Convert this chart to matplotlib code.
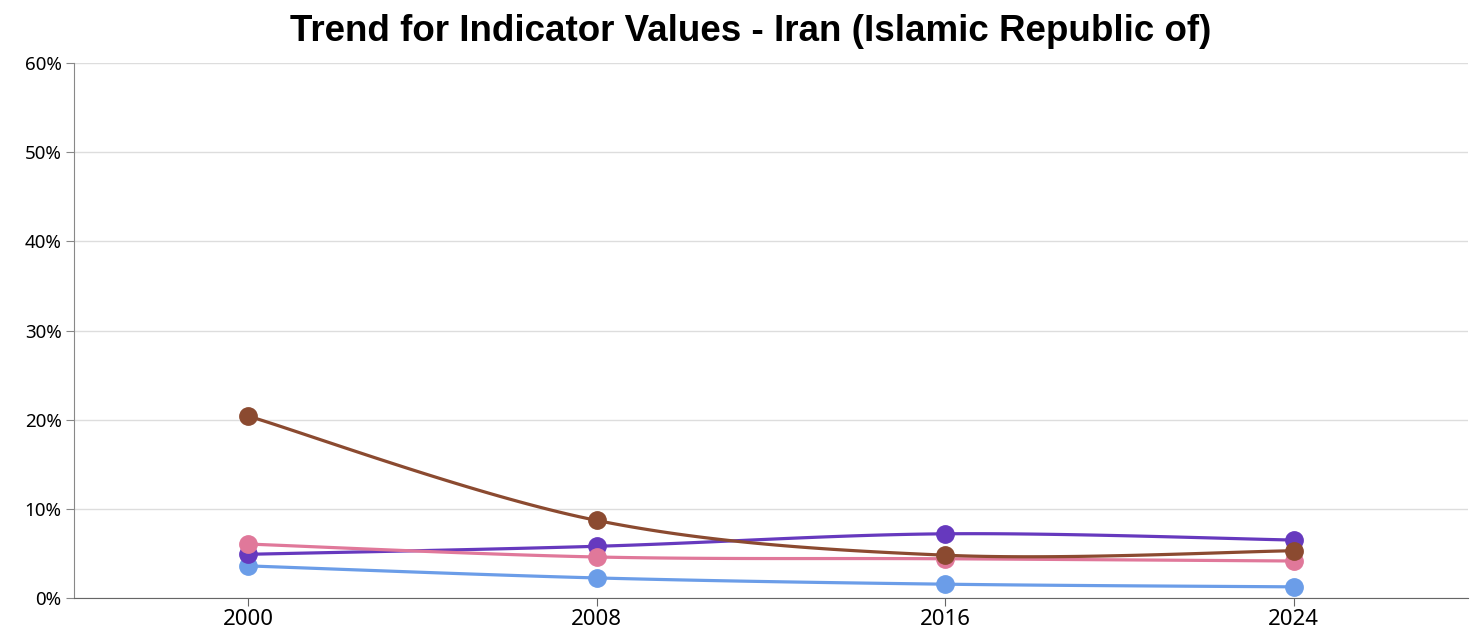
import numpy as np
import matplotlib
matplotlib.use("Agg")
import matplotlib.pyplot as plt

# data (percent)
years = [2000, 2008, 2016, 2024]
blue_vals = [3.6, 2.25, 1.55, 1.25]
purple_vals = [4.9, 5.8, 7.2, 6.5]
pink_vals = [6.05, 4.6, 4.4, 4.15]
brown_vals = [20.4, 8.7, 4.8, 5.3]

series = [
    (blue_vals, '#6B9DE8'),
    (purple_vals, '#6639BE'),
    (pink_vals, '#E0789A'),
    (brown_vals, '#8B4A30'),
]


def cardinal(xs, ys, n=40):
    # cardinal spline (tension 0), end points repeated like d3
    x = np.array(xs, float)
    y = np.array(ys, float)
    px = np.concatenate([[x[0]], x, [x[-1]]])
    py = np.concatenate([[y[0]], y, [y[-1]]])
    out_x, out_y = [], []
    t = np.linspace(0, 1, n)
    for i in range(1, len(px) - 2):
        x0, x1, x2, x3 = px[i - 1:i + 3]
        y0, y1, y2, y3 = py[i - 1:i + 3]
        c1x, c1y = x1 + (x2 - x0) / 6, y1 + (y2 - y0) / 6
        c2x, c2y = x2 - (x3 - x1) / 6, y2 - (y3 - y1) / 6
        bx = (1 - t)**3 * x1 + 3 * (1 - t)**2 * t * c1x + 3 * (1 - t) * t**2 * c2x + t**3 * x2
        by = (1 - t)**3 * y1 + 3 * (1 - t)**2 * t * c1y + 3 * (1 - t) * t**2 * c2y + t**3 * y2
        out_x.extend(bx)
        out_y.extend(by)
    return out_x, out_y


fig = plt.figure(figsize=(14.77, 6.32), dpi=100)
ax = fig.add_axes([74 / 1477, 34 / 632, 1394 / 1477, 535 / 632])

for vals, col in series:
    sx, sy = cardinal(years, vals)
    ax.plot(sx, sy, color=col, lw=2.3, solid_capstyle='round', zorder=3)
    ax.plot(years, vals, 'o', color=col, ms=12.5, zorder=4)

ax.set_xlim(1996, 2028)
ax.set_ylim(0, 60)
ax.set_xticks(years)
ax.set_xticklabels([str(y) for y in years], fontsize=16, family='Noto Sans')
ax.set_yticks(range(0, 61, 10))
ax.set_yticklabels([f'{v}%' for v in range(0, 61, 10)], fontsize=13.5, family='Noto Sans')
ax.grid(axis='y', color='#dddddd', lw=1)
ax.set_axisbelow(True)
for s in ['top', 'right']:
    ax.spines[s].set_visible(False)
ax.spines['left'].set_color('#888888')
ax.spines['bottom'].set_color('#666666')
ax.tick_params(axis='y', length=6, color='#888888', pad=3)
ax.tick_params(axis='x', length=6, color='#666666', pad=2)

fig.text(751 / 1477, 0.95, 'Trend for Indicator Values - Iran (Islamic Republic of)',
         ha='center', va='center', fontsize=26.5, fontweight='bold', family='Liberation Sans')

fig.savefig('out.png', dpi=100)
